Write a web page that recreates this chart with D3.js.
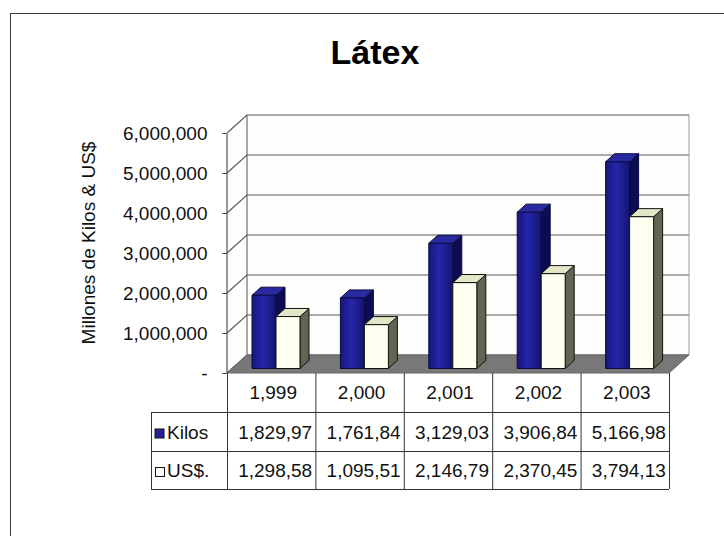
<!DOCTYPE html>
<html>
<head>
<meta charset="utf-8">
<script src="https://cdn.jsdelivr.net/npm/d3@7"></script>
<style>
  body { margin: 0; background: #fff; }
  svg { display: block; font-family: 'Liberation Sans', Arial, sans-serif; }
</style>
</head>
<body>
<div class="chart"></div>
<script>
'use strict';

var categories = ['1,999', '2,000', '2,001', '2,002', '2,003'];
var kilos = [1829970, 1761840, 3129030, 3906840, 5166980];
var usd = [1298580, 1095510, 2146790, 2370450, 3794130];
var kilosText = ['1,829,97', '1,761,84', '3,129,03', '3,906,84', '5,166,98'];
var usdText = ['1,298,58', '1,095,51', '2,146,79', '2,370,45', '3,794,13'];
var seriesNames = ['Kilos', 'US$.'];
var yTicks = [0, 1000000, 2000000, 3000000, 4000000, 5000000, 6000000];

(function() {
  var width = 724, height = 536;
  var plotLeft = 227, plotRight = 669, plotTop = 133, plotBottom = 373;
  var depthX = 20, depthY = -18;

  var svg = d3.select('.chart').append('svg')
    .attr('width', width)
    .attr('height', height);

  // frame
  svg.append('rect')
    .attr('x', 10.5).attr('y', 13.5)
    .attr('width', 900).attr('height', 900)
    .attr('fill', '#fff')
    .attr('stroke', '#3a3a3a');

  svg.append('text')
    .attr('x', 375).attr('y', 64)
    .attr('text-anchor', 'middle')
    .attr('font-size', 34).attr('font-weight', 'bold')
    .text('Látex');

  var x = d3.scaleBand().domain(categories).range([plotLeft, plotRight]);
  var y = d3.scaleLinear().domain([0, 6000000]).range([plotBottom, plotTop]);
  var inner = d3.scaleBand().domain(seriesNames).range([20, 68]);

  function pt(px, v, d) {
    return [px + depthX * d, y(v) + depthY * d];
  }
  function poly(points) {
    return points.map(function(p) { return p[0] + ',' + p[1]; }).join(' ');
  }

  // walls
  svg.append('polygon')
    .attr('points', poly([pt(plotLeft, 0, 0), pt(plotLeft, 6000000, 0), pt(plotLeft, 6000000, 1),
      pt(plotRight, 6000000, 1), pt(plotRight, 0, 1), pt(plotLeft, 0, 1)]))
    .attr('fill', '#fdfdfb');

  var grid = svg.append('g').attr('fill', 'none');
  yTicks.forEach(function(t) {
    grid.append('polyline')
      .attr('points', poly([pt(plotLeft, t, 0), pt(plotLeft, t, 1), pt(plotRight, t, 1)]))
      .attr('stroke', '#5a5a5a')
      .attr('stroke-width', 1.2);
  });
  grid.append('line')
    .attr('x1', pt(plotLeft, 0, 1)[0]).attr('y1', pt(plotLeft, 0, 1)[1])
    .attr('x2', pt(plotLeft, 6000000, 1)[0]).attr('y2', pt(plotLeft, 6000000, 1)[1])
    .attr('stroke', '#555');
  grid.append('line')
    .attr('x1', pt(plotRight, 0, 1)[0]).attr('y1', pt(plotRight, 0, 1)[1])
    .attr('x2', pt(plotRight, 6000000, 1)[0]).attr('y2', pt(plotRight, 6000000, 1)[1])
    .attr('stroke', '#999');

  // floor
  svg.append('polygon')
    .attr('points', poly([pt(plotLeft, 0, 0), pt(plotRight, 0, 0), pt(plotRight, 0, 1), pt(plotLeft, 0, 1)]))
    .attr('fill', '#787878')
    .attr('stroke', '#666');

  // bars
  var defs = svg.append('defs');
  var grad = defs.append('linearGradient').attr('id', 'blueFront');
  grad.append('stop').attr('offset', '0%').attr('stop-color', '#16167e');
  grad.append('stop').attr('offset', '45%').attr('stop-color', '#2626aa');
  grad.append('stop').attr('offset', '100%').attr('stop-color', '#14146e');

  var styles = {
    'Kilos': {front: 'url(#blueFront)', side: '#0c0c52', top: '#2a2aa0', stroke: '#0a0a40'},
    'US$.': {front: '#fffff0', side: '#606652', top: '#e4e6c8', stroke: '#111'}
  };
  var d0 = 0.25, d1 = 0.7;
  var bars = svg.append('g');
  categories.forEach(function(c, i) {
    [['Kilos', kilos[i]], ['US$.', usd[i]]].forEach(function(s) {
      var st = styles[s[0]];
      var bx0 = x(c) + inner(s[0]);
      var bx1 = bx0 + inner.bandwidth();
      var v = s[1];
      var g = bars.append('g').attr('stroke', st.stroke).attr('stroke-width', 1).attr('stroke-linejoin', 'round');
      g.append('polygon')
        .attr('points', poly([pt(bx1, 0, d0), pt(bx1, v, d0), pt(bx1, v, d1), pt(bx1, 0, d1)]))
        .attr('fill', st.side);
      g.append('polygon')
        .attr('points', poly([pt(bx0, v, d0), pt(bx1, v, d0), pt(bx1, v, d1), pt(bx0, v, d1)]))
        .attr('fill', st.top);
      g.append('polygon')
        .attr('points', poly([pt(bx0, 0, d0), pt(bx1, 0, d0), pt(bx1, v, d0), pt(bx0, v, d0)]))
        .attr('fill', st.front);
    });
  });

  // y axis
  var yAxis = d3.axisLeft(y)
    .tickValues(yTicks)
    .tickSize(4)
    .tickSizeOuter(0)
    .tickPadding(15)
    .tickFormat(function(d) { return d === 0 ? '-' : d3.format(',')(d); });
  var ya = svg.append('g')
    .attr('transform', 'translate(' + (plotLeft - 0.5) + ',0)')
    .call(yAxis);
  ya.selectAll('text').attr('font-size', 19).attr('fill', '#111').attr('font-family', 'Liberation Sans, Arial, sans-serif');
  ya.selectAll('line').attr('stroke', '#333');
  ya.select('.domain').attr('stroke', '#333');

  svg.append('text')
    .attr('transform', 'translate(95,243) rotate(-90)')
    .attr('text-anchor', 'middle')
    .attr('font-size', 19)
    .attr('fill', '#111')
    .text('Millones de Kilos & US$');

  // data table
  var legX = 151;
  var table = svg.append('g').attr('stroke', '#333').attr('stroke-width', 1);
  [412, 451, 489].forEach(function(ry) {
    table.append('line').attr('x1', legX).attr('x2', plotRight).attr('y1', ry + 0.5).attr('y2', ry + 0.5);
  });
  table.append('line').attr('x1', legX + 0.5).attr('x2', legX + 0.5).attr('y1', 412).attr('y2', 489);
  categories.forEach(function(c) {
    table.append('line').attr('x1', x(c) + 0.5).attr('x2', x(c) + 0.5).attr('y1', 373).attr('y2', 489);
  });
  table.append('line').attr('x1', plotRight + 0.5).attr('x2', plotRight + 0.5).attr('y1', 373).attr('y2', 489);

  var tt = svg.append('g').attr('font-size', 19).attr('fill', '#111').attr('text-anchor', 'middle');
  categories.forEach(function(c, i) {
    var cx = x(c) + x.bandwidth() / 2 + 2;
    tt.append('text').attr('x', cx).attr('y', 399).text(c);
    tt.append('text').attr('x', cx + 2).attr('y', 439).text(kilosText[i]);
    tt.append('text').attr('x', cx + 2).attr('y', 477).text(usdText[i]);
  });

  // legend keys in table
  svg.append('rect').attr('x', 155).attr('y', 429).attr('width', 9).attr('height', 9)
    .attr('fill', '#22229a').attr('stroke', '#111');
  svg.append('rect').attr('x', 155.5).attr('y', 467.5).attr('width', 9).attr('height', 9)
    .attr('fill', '#fff').attr('stroke', '#111');
  tt.append('text').attr('x', 167).attr('y', 439).attr('text-anchor', 'start').text(seriesNames[0]);
  tt.append('text').attr('x', 167).attr('y', 477).attr('text-anchor', 'start').text(seriesNames[1]);
})();
</script>
</body>
</html>
